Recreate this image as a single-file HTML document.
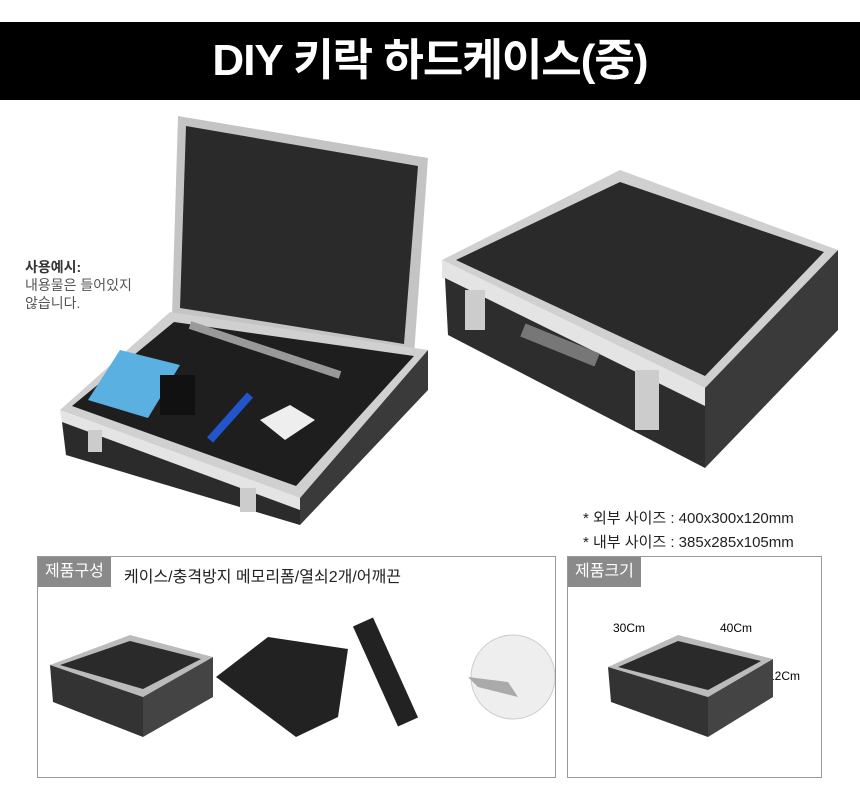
<!DOCTYPE html>
<html><head><meta charset="utf-8"><style>
body{margin:0;width:860px;height:800px;background:#fff;position:relative;overflow:hidden;font-family:"Liberation Sans","Noto Sans CJK KR",sans-serif}
.banner{position:absolute;left:0;top:22px;width:860px;height:78px;background:#000;color:#fff;font-size:44px;font-weight:bold;text-align:center;line-height:78px;letter-spacing:-1px}
.abs{position:absolute}
.box{position:absolute;border:1px solid #999;background:#fff}
.lab{position:absolute;left:0;top:0;background:#8a8a8a;color:#fff;font-size:16px;padding:0 7px;height:30px;line-height:30px}
</style></head><body>
<div class="banner">DIY 키락 하드케이스(중)</div>
<div class="abs" style="left:25px;top:258px;font-size:14px;color:#555;line-height:18px"><b style="color:#333">사용예시:</b><br>내용물은 들어있지<br>않습니다.</div>
<svg class="abs" style="left:0;top:100px" width="860" height="450">
 <!-- open case lid -->
 <polygon points="178,16 428,58 414,255 172,215" fill="#c4c4c4"/>
 <polygon points="186,26 418,66 404,244 180,208" fill="#2a2a2a"/>
 <!-- base -->
 <polygon points="60,310 170,212 428,250 300,398" fill="#d0d0d0"/>
 <polygon points="72,306 174,222 414,256 296,386" fill="#1e1e1e"/>
 <polygon points="60,310 300,398 300,410 62,322" fill="#e4e4e4"/>
 <polygon points="62,322 300,410 300,425 66,355" fill="#2b2b2b"/>
 <polygon points="300,398 428,250 428,290 300,425" fill="#3a3a3a"/>
 <polygon points="88,300 120,250 180,265 148,318" fill="#5ab0e0"/>
 <polygon points="260,320 290,305 315,320 285,340" fill="#eee"/>
 <line x1="210" y1="340" x2="250" y2="295" stroke="#2255cc" stroke-width="8"/>
 <line x1="190" y1="225" x2="340" y2="275" stroke="#999" stroke-width="8"/>
 <rect x="160" y="275" width="35" height="40" fill="#111"/>
 <rect x="88" y="330" width="14" height="22" fill="#ccc"/>
 <rect x="240" y="388" width="16" height="24" fill="#ccc"/>
 <!-- closed case -->
 <polygon points="442,160 620,70 838,150 705,288" fill="#d0d0d0"/>
 <polygon points="456,160 620,82 824,152 705,276" fill="#2a2a2a"/>
 <polygon points="442,160 705,288 705,306 442,178" fill="#e4e4e4"/>
 <polygon points="445,178 705,306 705,368 448,235" fill="#2d2d2d"/>
 <polygon points="705,288 838,150 838,230 705,368" fill="#3a3a3a"/>
 <rect x="465" y="190" width="20" height="40" fill="#ccc"/>
 <rect x="635" y="270" width="24" height="60" fill="#ccc"/>
 <rect x="520" y="238" width="80" height="14" fill="#777" transform="rotate(22 560 245)"/>
</svg>
<div class="abs" style="left:583px;top:507px;font-size:15px;color:#222;line-height:24px">* 외부 사이즈 : 400x300x120mm<br>* 내부 사이즈 : 385x285x105mm</div>
<div class="box" style="left:37px;top:556px;width:517px;height:220px">
 <div class="lab">제품구성</div>
 <div class="abs" style="left:86px;top:6px;font-size:16px;color:#222">케이스/충격방지 메모리폼/열쇠2개/어깨끈</div>
 <svg class="abs" style="left:0;top:30px" width="517" height="190">
  <polygon points="12,78 92,48 175,70 105,110" fill="#bbb"/>
  <polygon points="22,78 92,54 163,72 105,102" fill="#2a2a2a"/>
  <polygon points="12,78 105,110 105,150 15,115" fill="#333"/>
  <polygon points="105,110 175,70 175,110 105,150" fill="#444"/>
  <polygon points="178,90 230,50 310,62 300,130 258,150" fill="#222"/>
  <line x1="325" y1="35" x2="370" y2="135" stroke="#222" stroke-width="22"/>
  <circle cx="475" cy="90" r="42" fill="#eee" stroke="#ccc"/>
  <polygon points="430,90 470,95 480,110 440,100" fill="#aaa"/>
 </svg>
</div>
<div class="box" style="left:567px;top:556px;width:253px;height:220px">
 <div class="lab">제품크기</div>
 <div class="abs" style="left:45px;top:64px;font-size:12px">30Cm</div>
 <div class="abs" style="left:152px;top:64px;font-size:12px">40Cm</div>
 <div class="abs" style="left:200px;top:112px;font-size:12px">12Cm</div>
 <svg class="abs" style="left:0;top:30px" width="253" height="190">
  <polygon points="40,80 110,48 205,72 140,110" fill="#bbb"/>
  <polygon points="50,80 110,54 193,74 140,103" fill="#2a2a2a"/>
  <polygon points="40,80 140,110 140,150 43,115" fill="#333"/>
  <polygon points="140,110 205,72 205,110 140,150" fill="#444"/>
 </svg>
</div>
</body></html>
